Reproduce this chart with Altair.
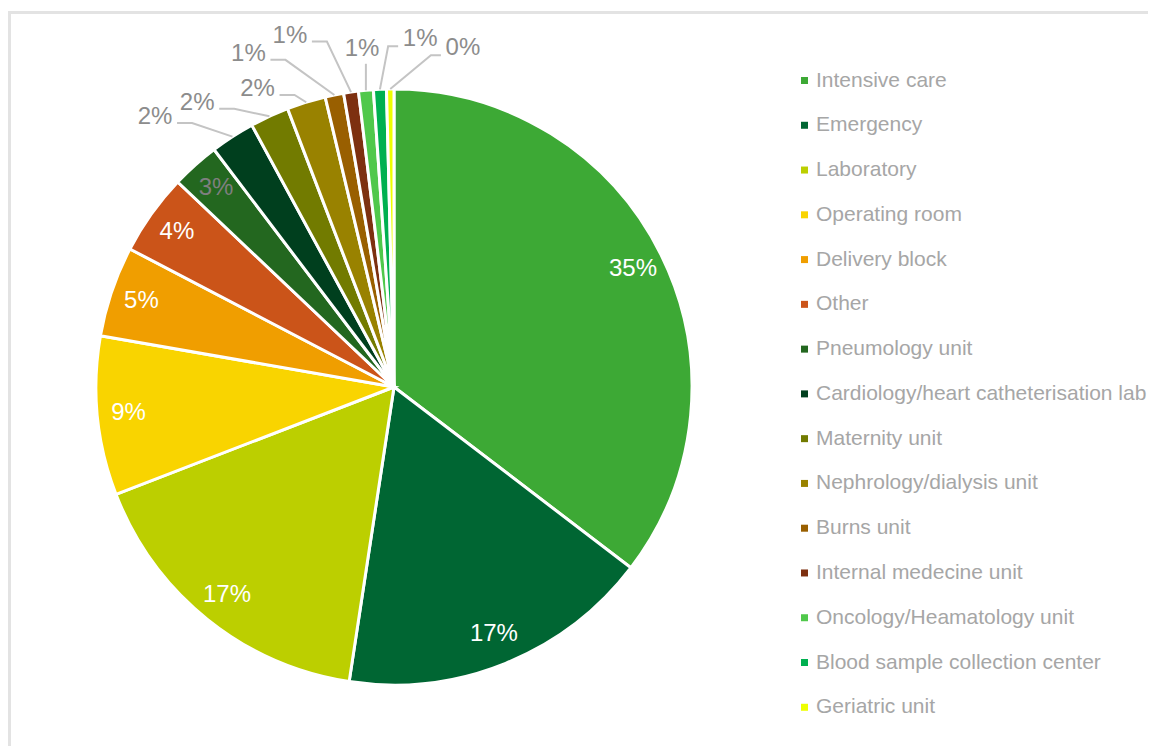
import math
import altair as alt
import pandas as pd

# ---------------- data ----------------
categories = [
    "Intensive care", "Emergency", "Laboratory", "Operating room", "Delivery block",
    "Other", "Pneumology unit", "Cardiology/heart catheterisation lab", "Maternity unit",
    "Nephrology/dialysis unit", "Burns unit", "Internal medecine unit",
    "Oncology/Heamatology unit", "Blood sample collection center", "Geriatric unit",
]
shares = [35.3, 17.0, 16.7, 8.6, 4.9, 4.4, 2.6, 2.4, 2.1, 2.1, 1.0, 0.8, 0.8, 0.7, 0.4]
colors = [
    "#3DA935", "#006633", "#BCCF00", "#F9D400", "#F09E00", "#CB5419", "#23671F",
    "#003F1E", "#727B00", "#998200", "#995F00", "#7D3010", "#50C84B", "#00B050", "#EEFF00",
]

# ---------------- layout ----------------
W, H = 1140, 738
CX, CY, R = 386.0, 379.0, 298.0
N_INSIDE = 7
INSIDE_R = 0.895
# outside label placement: (angle deg clockwise from 12 o'clock, radius in pie radii, leader side)
outside_layout = {
    "Cardiology/heart catheterisation lab": (318.5, 1.21, "left"),
    "Maternity unit": (325.3, 1.16, "left"),
    "Nephrology/dialysis unit": (335.4, 1.10, "left"),
    "Burns unit": (336.4, 1.22, "left"),
    "Internal medecine unit": (343.5, 1.23, "left"),
    "Oncology/Heamatology unit": (354.6, 1.14, "below"),
    "Blood sample collection center": (4.3, 1.17, "right"),
    "Geriatric unit": (11.5, 1.16, "right"),
}
FONT = "Liberation Sans"
LABEL_SIZE = 24

total = sum(shares)
rows, lead = [], []
cum = 0.0
for i, (c, s) in enumerate(zip(categories, shares)):
    mid = (cum + s / 2) / total * 2 * math.pi
    cum += s
    lbl = f"{round(s / total * 100):.0f}%"
    if i < N_INSIDE:
        lx, ly = INSIDE_R * math.sin(mid), INSIDE_R * math.cos(mid)
        kind = "in"
    else:
        ang, rr, side = outside_layout[c]
        a = math.radians(ang)
        lx, ly = rr * math.sin(a), rr * math.cos(a)
        kind = "out"
        ax, ay = 1.0 * math.sin(mid), 1.0 * math.cos(mid)
        if side == "left":
            cx_, cy_ = lx + 22 / R, ly - 6 / R
            bx, by = cx_ + 15 / R, cy_
        elif side == "right":
            cx_, cy_ = lx - 22 / R, ly - 7 / R
            bx, by = cx_ - 10 / R, cy_
        else:
            cx_, cy_ = ax, ly - 15 / R
            bx, by = cx_, cy_
        for k, (px, py) in enumerate([(cx_, cy_), (bx, by), (ax, ay)]):
            lead.append({"category": c, "k": k, "px": px, "py": py})
    rows.append({"idx": i, "category": c, "share": s, "lbl": lbl, "lx": lx, "ly": ly, "kind": kind})

df = pd.DataFrame(rows)
lead_df = pd.DataFrame(lead)

xs = alt.Scale(domain=[-1, 1], range=[CX - R, CX + R], zero=False, nice=False)
ys = alt.Scale(domain=[-1, 1], range=[CY + R, CY - R], zero=False, nice=False)

pie = alt.Chart(df).mark_arc(outerRadius=R, stroke="white", strokeWidth=3).encode(
    theta=alt.Theta("share:Q", stack=True),
    color=alt.Color(
        "category:N",
        scale=alt.Scale(domain=categories, range=colors),
        sort=categories,
        legend=alt.Legend(
            orient="none", legendX=786, legendY=62, title=None,
            symbolType="square", symbolSize=49, symbolStrokeWidth=0,
            labelFontSize=21, labelFont=FONT, labelColor="#A6A6A6",
            labelOffset=1, rowPadding=22.77, labelLimit=500, padding=0,
        ),
    ),
    order=alt.Order("idx:Q", sort="ascending"),
    x=alt.value(CX),
    y=alt.value(CY),
)

leaders = alt.Chart(lead_df).mark_line(color="#C4C4C4", strokeWidth=2).encode(
    x=alt.X("px:Q", scale=xs, axis=None),
    y=alt.Y("py:Q", scale=ys, axis=None),
    detail="category:N",
    order="k:Q",
)

inside = alt.Chart(df).transform_filter(alt.datum.kind == "in").mark_text(
    font=FONT, fontSize=LABEL_SIZE, align="center", baseline="middle"
).encode(
    x=alt.X("lx:Q", scale=xs, axis=None),
    y=alt.Y("ly:Q", scale=ys, axis=None),
    text="lbl:N",
    color=alt.condition(alt.datum.category == "Pneumology unit", alt.value("#7F7F7F"), alt.value("#FFFFFF")),
)

outside = alt.Chart(df).transform_filter(alt.datum.kind == "out").mark_text(
    font=FONT, fontSize=LABEL_SIZE, align="center", baseline="middle", color="#8C8C8C"
).encode(
    x=alt.X("lx:Q", scale=xs, axis=None),
    y=alt.Y("ly:Q", scale=ys, axis=None),
    text="lbl:N",
)

frame_df = pd.DataFrame({"a": [0]})
border_top = alt.Chart(frame_df).mark_rule(color="#E3E3E3", strokeWidth=3).encode(
    x=alt.value(0), x2=alt.value(W), y=alt.value(4.5)
)
border_left = alt.Chart(frame_df).mark_rule(color="#E3E3E3", strokeWidth=3).encode(
    x=alt.value(1.5), y=alt.value(3), y2=alt.value(H)
)

chart = alt.layer(border_top, border_left, pie, leaders, inside, outside).properties(
    width=W, height=H, padding=0,
    autosize=alt.AutoSizeParams(type="none"),
).configure_view(stroke=None).resolve_scale(x="shared", y="shared")

chart.save("out.html", embed_options={"renderer": "svg", "actions": False})
